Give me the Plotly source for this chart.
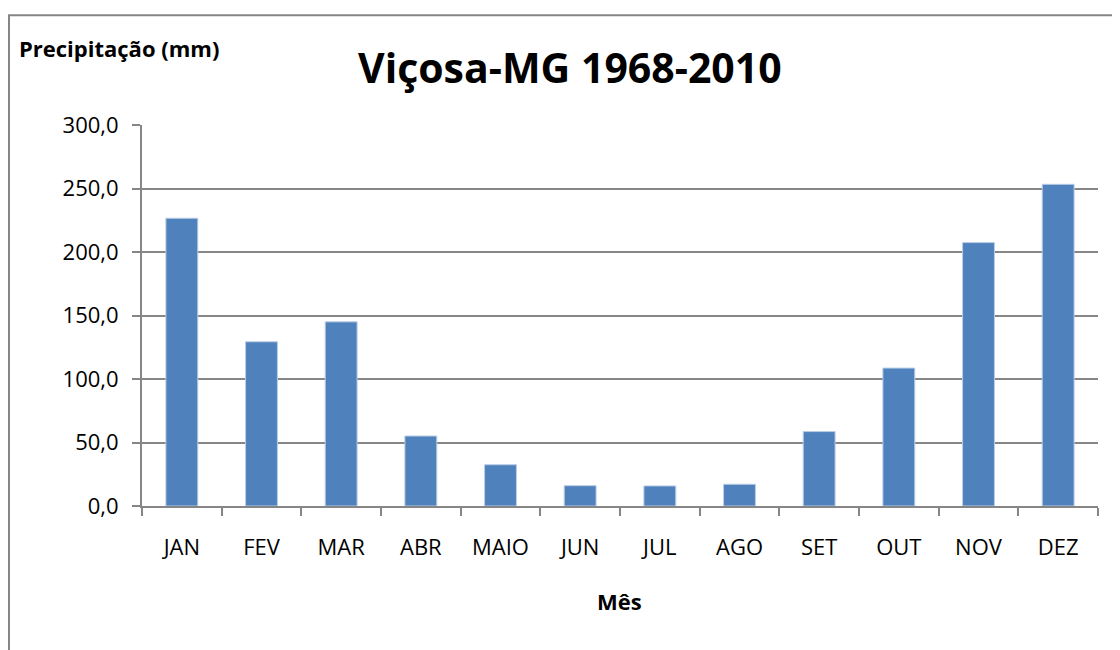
import plotly.graph_objects as go

months = ["JAN", "FEV", "MAR", "ABR", "MAIO", "JUN", "JUL", "AGO", "SET", "OUT", "NOV", "DEZ"]
precip = [226.6, 129.3, 145.0, 55.1, 32.5, 16.0, 15.8, 17.1, 58.6, 108.6, 207.4, 253.3]
y_ticks = [0, 50, 100, 150, 200, 250, 300]

OFF = 8  # page body margin
W, H = 1120 - OFF, 650 - OFF
L, R, T = 142 - OFF, 22, 125 - OFF
B = H - (506.5 - OFF)
pw, ph = W - L - R, H - T - B

def px(x):  # page pixel -> paper x
    return (x - OFF - L) / pw

def py(y):  # page pixel -> paper y
    return (H - B - (y - OFF)) / ph

fig = go.Figure(go.Bar(
    x=months, y=precip,
    marker=dict(color="#4F81BD", line=dict(color="#B9CDE5", width=1)),
    width=0.4,
))

fig.update_layout(
    width=W, height=H,
    margin=dict(l=L, r=R, t=T, b=B),
    paper_bgcolor="white", plot_bgcolor="white",
    separators=",.",
    showlegend=False,
    font=dict(family="Open Sans", color="black"),
)
fig.update_xaxes(
    type="category", tickson="boundaries", ticks="outside", ticklen=8,
    tickcolor="#868686", tickwidth=2,
    showline=True, linecolor="#868686", linewidth=2,
    showgrid=False, tickfont=dict(size=22, family="Open Sans"),
    ticklabelstandoff=21,
)
fig.update_yaxes(
    range=[0, 300], tickvals=y_ticks, tickformat=".1f",
    ticks="outside", ticklen=8, tickcolor="#868686", tickwidth=2,
    showline=True, linecolor="#868686", linewidth=2,
    showgrid=True, gridcolor="#868686", gridwidth=2,
    zeroline=False, tickfont=dict(size=22, family="Open Sans"),
    ticklabelstandoff=9,
)

fig.add_shape(type="rect", xref="paper", yref="paper",
              x0=px(9), x1=px(1140), y0=py(15), y1=py(680),
              line=dict(color="#868686", width=2), layer="below")

fig.add_annotation(text="<b>Viçosa-MG 1968-2010</b>", xref="paper", yref="paper",
                   x=px(570), y=py(67), xanchor="center", yanchor="middle",
                   showarrow=False, font=dict(size=41, family="Open Sans"))
fig.add_annotation(text="<b>Precipitação (mm)</b>", xref="paper", yref="paper",
                   x=px(17), y=py(48), xanchor="left", yanchor="middle",
                   showarrow=False, font=dict(size=22, family="Open Sans"))
fig.add_annotation(text="<b>Mês</b>", xref="paper", yref="paper",
                   x=px(619), y=py(602), xanchor="center", yanchor="middle",
                   showarrow=False, font=dict(size=22, family="Open Sans"))

fig.write_html("out.html")
